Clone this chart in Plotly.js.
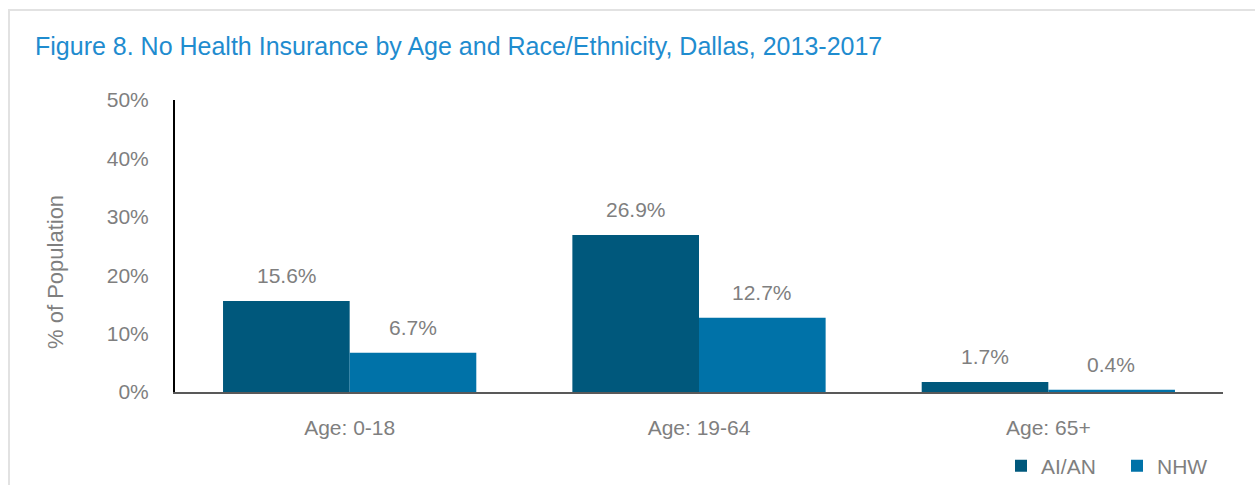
<!DOCTYPE html>
<html>
<head>
<meta charset="utf-8">
<script src="https://cdn.plot.ly/plotly-3.0.1.min.js"></script>
<style>
  html, body { margin: 0; padding: 0; background: #ffffff; overflow: hidden; }
  #chart { width: 1255px; height: 485px; position: absolute; left: 0; top: 0; }
  #frame { position: absolute; left: 8px; top: 9px; width: 1400px; height: 600px;
           border-top: 2px solid #e2e2e2; border-left: 2px solid #e2e2e2; pointer-events: none; }
</style>
</head>
<body>
<div id="chart"></div>
<div id="frame"></div>
<script>
const categories = ["Age: 0-18", "Age: 19-64", "Age: 65+"];
const aianValues = [15.6, 26.9, 1.7];
const nhwValues = [6.7, 12.7, 0.4];
const seriesNames = ["AI/AN", "NHW"];
const titleText = "Figure 8. No Health Insurance by Age and Race/Ethnicity, Dallas, 2013-2017";
const yTitle = "% of Population";

const FONT = "'Liberation Sans Narrow', 'Arial Narrow', 'Liberation Sans', Arial, sans-serif";
const GREY = "#7f7f7f";
const colors = ["#00587c", "#0072a8"];

const traces = [
  { type: "bar", name: seriesNames[0], x: categories, y: aianValues,
    marker: { color: colors[0] }, hoverinfo: "none" },
  { type: "bar", name: seriesNames[1], x: categories, y: nhwValues,
    marker: { color: colors[1] }, hoverinfo: "none" }
];

const annotations = [];
[aianValues, nhwValues].forEach((vals, si) => {
  vals.forEach((v, i) => {
    annotations.push({
      x: categories[i], y: v, xref: "x", yref: "y",
      text: v.toFixed(1) + "%", showarrow: false,
      xshift: si === 0 ? -63 : 63, yshift: 12, yanchor: "bottom",
      font: { family: FONT, size: 21, color: GREY }
    });
  });
});
annotations.push({
  text: yTitle, xref: "paper", yref: "paper",
  x: (55 - 175) / 1048, y: (392 - 272) / 292, xanchor: "center", yanchor: "middle",
  textangle: -90, showarrow: false,
  font: { family: FONT, size: 22, color: GREY }
});

const layout = {
  width: 1255, height: 485,
  margin: { l: 175, r: 32, t: 100, b: 93 },
  paper_bgcolor: "rgba(0,0,0,0)", plot_bgcolor: "rgba(0,0,0,0)",
  font: { family: FONT, size: 21, color: GREY },
  title: { text: titleText, x: 35 / 1255, xanchor: "left", xref: "container",
           y: 1 - 46 / 485, yanchor: "middle", yref: "container",
           font: { family: FONT, size: 25, color: "#1f8ccf" } },
  barmode: "group", bargap: 0.275, bargroupgap: 0,
  xaxis: { showgrid: false, showline: true, linecolor: "#595959", linewidth: 2,
           ticks: "", ticklabelstandoff: 16, zeroline: false, fixedrange: true, automargin: false,
           tickfont: { family: FONT, size: 21, color: GREY } },
  yaxis: { range: [0, 50], dtick: 10, ticksuffix: "%", showgrid: false, zeroline: false,
           showline: true, linecolor: "#000000", linewidth: 2, ticks: "",
           ticklabelstandoff: 20, fixedrange: true, automargin: false,
           tickfont: { family: FONT, size: 21, color: GREY } },
  legend: { orientation: "h", x: 1001 / 1255, xref: "container", xanchor: "left",
            y: 1 - 466 / 485, yref: "container", yanchor: "middle",
            font: { family: FONT, size: 21, color: GREY }, itemwidth: 30,
            entrywidth: 71, entrywidthmode: "pixels", traceorder: "normal" },
  annotations: annotations,
  showlegend: true
};

Plotly.newPlot("chart", traces, layout, { displayModeBar: false, staticPlot: true });
</script>
</body>
</html>
